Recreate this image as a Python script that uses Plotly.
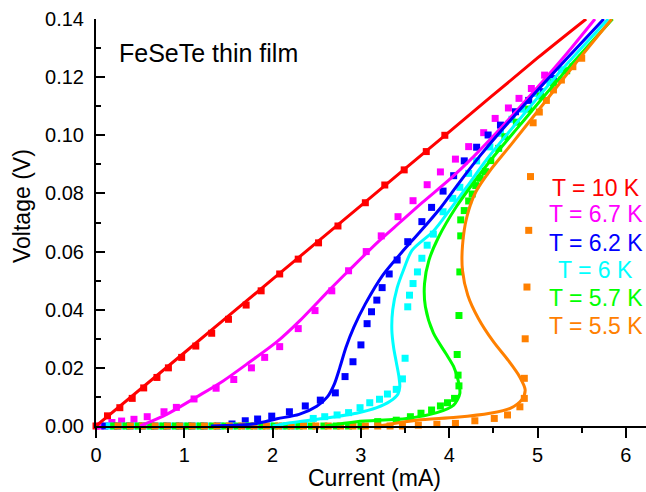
import plotly.graph_objects as go

# ---------------- data ----------------
temps = ["T = 10 K", "T = 6.7 K", "T = 6.2 K", "T = 6 K", "T = 5.7 K", "T = 5.5 K"]
colors = ["#FF0000", "#FF00FF", "#0000FF", "#00FFFF", "#00FF00", "#FF8000"]

# measured points (current mA, voltage V)
red_I = [0.0, 0.13, 0.27, 0.41, 0.54, 0.69, 0.82, 0.97, 1.13, 1.31, 1.50, 1.70, 1.87, 2.08, 2.29,
         2.52, 2.74, 3.05, 3.27, 3.49, 3.74, 3.95]
red_V = [0.0, 0.0035, 0.0063, 0.0095, 0.0131, 0.0167, 0.0200, 0.0236, 0.0275, 0.0319, 0.0367, 0.0416,
         0.0465, 0.0523, 0.0574, 0.0630, 0.0688, 0.0768, 0.0829, 0.0881, 0.0944, 0.1000]

mag_I = [0.05, 0.18, 0.29, 0.43, 0.58, 0.77, 0.91, 1.11, 1.36, 1.56, 1.76, 1.91, 2.08, 2.29, 2.48,
         2.67, 2.86, 3.06, 3.23, 3.42, 3.59, 3.75, 3.90, 4.07, 4.22, 4.39, 4.52, 4.67, 4.79, 4.93, 5.08]
mag_V = [0.0, 0.0012, 0.0017, 0.0023, 0.0032, 0.0049, 0.0064, 0.0093, 0.0130, 0.0160, 0.0200, 0.0236,
         0.0273, 0.0335, 0.0397, 0.0465, 0.0534, 0.0600, 0.0654, 0.0720, 0.0775, 0.0830, 0.0874,
         0.0918, 0.0961, 0.1009, 0.1058, 0.1094, 0.1127, 0.1161, 0.1207]

blue_I = [0.10, 0.24, 0.38, 0.52, 0.66, 0.80, 0.94, 1.08, 1.22, 1.38, 1.54, 1.69, 1.83, 1.99, 2.19,
          2.37, 2.54, 2.71, 2.82, 2.91, 3.00, 3.07, 3.12, 3.18, 3.24, 3.32, 3.41, 3.53, 3.69, 3.80,
          3.93, 4.05, 4.17, 4.31, 4.44, 4.58, 4.75, 4.90, 5.03, 5.18]
blue_V = [0.0, 0.0, 0.0, 0.0, 0.0, 0.0, 0.0, 0.0, 0.0, 0.0, 0.0007, 0.0018, 0.0024, 0.0034, 0.0049,
          0.0069, 0.0089, 0.0114, 0.0170, 0.0221, 0.0279, 0.0352, 0.0393, 0.0433, 0.0476, 0.0523,
          0.0571, 0.0634, 0.0703, 0.0752, 0.0808, 0.0861, 0.0912, 0.0959, 0.1001, 0.1035, 0.1081,
          0.1120, 0.1150, 0.1195]

cyan_I = [0.15, 0.29, 0.43, 0.57, 0.71, 0.85, 0.99, 1.13, 1.27, 1.41, 1.55, 1.69, 1.83, 1.97, 2.11,
          2.25, 2.36, 2.46, 2.59, 2.73, 2.86, 2.99, 3.10, 3.21, 3.30, 3.40, 3.47, 3.50, 3.53, 3.55,
          3.59, 3.64, 3.69, 3.75, 3.82, 3.93, 4.04, 4.12, 4.22, 4.31, 4.46, 4.58, 4.71, 4.84, 4.99,
          5.14, 5.27]
cyan_V = [0.0, 0.0, 0.0, 0.0, 0.0, 0.0, 0.0, 0.0, 0.0, 0.0, 0.0, 0.0, 0.0, 0.0, 0.0, 0.0, 0.0008,
          0.0026, 0.0032, 0.0038, 0.0046, 0.0063, 0.0080, 0.0092, 0.0110, 0.0126, 0.0162, 0.0233,
          0.0410, 0.0450, 0.0490, 0.0530, 0.0577, 0.0622, 0.0660, 0.0737, 0.0783, 0.0821, 0.0869,
          0.0912, 0.0960, 0.1007, 0.1055, 0.1090, 0.1144, 0.1185, 0.1225]

green_I = [0.20, 0.34, 0.48, 0.62, 0.76, 0.90, 1.04, 1.18, 1.32, 1.46, 1.60, 1.74, 1.88, 2.02, 2.16,
           2.30, 2.44, 2.58, 2.72, 2.86, 3.00, 3.19, 3.40, 3.56, 3.68, 3.80, 3.90, 3.98, 4.06, 4.11,
           4.10, 4.09, 4.11, 4.12, 4.13, 4.13, 4.17, 4.22, 4.26, 4.30, 4.35, 4.41, 4.47, 4.56, 4.63,
           4.76, 4.90, 5.03, 5.18, 5.33]
green_V = [0.0, 0.0, 0.0, 0.0, 0.0, 0.0, 0.0, 0.0, 0.0, 0.0, 0.0, 0.0, 0.0, 0.0, 0.0, 0.0, 0.0, 0.0,
           0.0, 0.0, 0.0, 0.0015, 0.0020, 0.0032, 0.0044, 0.0055, 0.0069, 0.0080, 0.0095, 0.0138,
           0.0175, 0.0246, 0.0380, 0.0530, 0.0654, 0.0709, 0.0741, 0.0774, 0.0798, 0.0827, 0.0852,
           0.0875, 0.0913, 0.0955, 0.0995, 0.1045, 0.1090, 0.1135, 0.1180, 0.1222]

orange_I = [0.25, 0.39, 0.53, 0.67, 0.81, 0.95, 1.09, 1.23, 1.37, 1.51, 1.65, 1.79, 1.93, 2.07, 2.21,
            2.35, 2.49, 2.63, 2.77, 2.91, 3.05, 3.19, 3.33, 3.47, 3.65, 3.86, 4.07, 4.29, 4.51, 4.66,
            4.80, 4.85, 4.85, 4.86, 4.88, 4.90, 4.92, 4.95, 5.02, 5.10, 5.18, 5.27, 5.40, 5.50]
orange_V = [0.0, 0.0, 0.0, 0.0, 0.0, 0.0, 0.0, 0.0, 0.0, 0.0, 0.0, 0.0, 0.0, 0.0, 0.0, 0.0, 0.0, 0.0,
            0.0, 0.0, 0.0, 0.0, 0.0, 0.0, 0.0003, 0.0006, 0.0009, 0.0018, 0.0026, 0.0038, 0.0066,
            0.0095, 0.0164, 0.0300, 0.0478, 0.0673, 0.0858, 0.1043, 0.1080, 0.1120, 0.1156, 0.1190,
            0.1236, 0.1265]

# fitted model curves (current mA, voltage V)
red_fit_I = [0.0, 1.0, 2.0, 3.0, 4.0, 5.0, 5.55]
red_fit_V = [0.0, 0.0252, 0.0505, 0.0758, 0.1012, 0.1266, 0.1400]

mag_fit_I = [0.50, 0.80, 1.14, 1.44, 1.74, 2.05, 2.30, 2.65, 2.88, 3.20, 3.44, 3.70, 4.01, 4.27,
             4.60, 5.00, 5.30, 5.65]
mag_fit_V = [0.0, 0.0040, 0.0100, 0.0155, 0.0220, 0.0290, 0.0360, 0.0470, 0.0540, 0.0635, 0.0700,
             0.0770, 0.0850, 0.0925, 0.1030, 0.1165, 0.1270, 0.1400]

blue_fit_I = [1.30, 1.80, 2.05, 2.30, 2.50, 2.62, 2.70, 2.76, 2.83, 2.92, 3.05, 3.25, 3.47, 3.67,
              3.90, 4.12, 4.35, 4.60, 5.00, 5.35, 5.75]
blue_fit_V = [0.0, 0.0008, 0.0025, 0.0040, 0.0068, 0.0100, 0.0145, 0.0200, 0.0270, 0.0340, 0.0420,
              0.0520, 0.0600, 0.0668, 0.0750, 0.0840, 0.0930, 0.1020, 0.1155, 0.1270, 0.1400]

cyan_fit_I = [2.00, 2.20, 2.57, 2.95, 3.18, 3.33, 3.42, 3.44, 3.43, 3.40, 3.37, 3.35, 3.36, 3.41,
              3.48, 3.58, 3.82, 4.01, 4.20, 4.42, 4.70, 5.20, 5.80]
cyan_fit_V = [0.0, 0.0011, 0.0026, 0.0044, 0.0063, 0.0085, 0.0110, 0.0135, 0.0170, 0.0220, 0.0270,
              0.0330, 0.0400, 0.0475, 0.0535, 0.0605, 0.0670, 0.0745, 0.0823, 0.0915, 0.1020, 0.1200,
              0.1400]

green_fit_I = [2.60, 2.95, 3.52, 3.86, 4.05, 4.12, 4.10, 4.05, 3.96, 3.82, 3.73, 3.72, 3.77, 3.88,
               4.08, 4.27, 4.50, 4.80, 5.30, 5.85]
green_fit_V = [0.0, 0.0015, 0.0026, 0.0046, 0.0072, 0.0112, 0.0158, 0.0204, 0.0250, 0.0320, 0.0410,
               0.0490, 0.0570, 0.0650, 0.0754, 0.0835, 0.0926, 0.1035, 0.1215, 0.1400]

orange_fit_I = [3.20, 3.63, 4.08, 4.46, 4.69, 4.82, 4.86, 4.80, 4.67, 4.50, 4.33, 4.21, 4.15, 4.15,
                4.20, 4.30, 4.46, 4.70, 5.03, 5.41, 5.84]
orange_fit_V = [0.0, 0.0020, 0.0030, 0.0044, 0.0061, 0.0090, 0.0124, 0.0168, 0.0225, 0.0290, 0.0370,
                0.0450, 0.0535, 0.0620, 0.0720, 0.0805, 0.0878, 0.0968, 0.1094, 0.1240, 0.1400]

x_ticks = [0, 1, 2, 3, 4, 5, 6]
y_ticks = [0.00, 0.02, 0.04, 0.06, 0.08, 0.10, 0.12, 0.14]

points = [(red_I, red_V), (mag_I, mag_V), (blue_I, blue_V), (cyan_I, cyan_V),
          (green_I, green_V), (orange_I, orange_V)]
fits = [(red_fit_I, red_fit_V), (mag_fit_I, mag_fit_V), (blue_fit_I, blue_fit_V),
        (cyan_fit_I, cyan_fit_V), (green_fit_I, green_fit_V), (orange_fit_I, orange_fit_V)]

FONT = "Arial, Liberation Sans, sans-serif"
XR = [0, 6.228]
YR = [0, 0.14]

fig = go.Figure()
for (xs, ys), c, name in zip(points, colors, temps):
    fig.add_trace(go.Scatter(x=xs, y=ys, mode="markers", name=name, cliponaxis=False,
                             marker=dict(symbol="square", size=7, color=c, line=dict(width=0)),
                             showlegend=False))
for (xs, ys), c, name in zip(fits, colors, temps):
    fig.add_trace(go.Scatter(x=xs, y=ys, mode="lines", name=name + " fit",
                             line=dict(color=c, width=3, shape="spline", smoothing=0.8),
                             showlegend=False))

# legend-like coloured labels
leg_y = [0.0820, 0.0730, 0.0630, 0.0535, 0.0440, 0.0345]
for t, c, yv in zip(temps, colors, leg_y):
    fig.add_annotation(x=5.66, y=yv, xref="x", yref="y", text=t, showarrow=False,
                       font=dict(family=FONT, size=23, color=c), xanchor="center", yanchor="middle")

fig.add_annotation(x=0.235, y=0.1283, xref="x", yref="y", text="FeSeTe thin film", showarrow=False,
                   font=dict(family=FONT, size=25, color="black"), xanchor="left", yanchor="middle")

fig.add_annotation(x=22, y=206, xref="paper", yref="paper", text="Voltage (V)", showarrow=False,
                   textangle=-90, font=dict(family=FONT, size=23, color="black"),
                   xanchor="center", yanchor="middle")
fig.add_annotation(x=374, y=478, xref="paper", yref="paper", text="Current (mA)", showarrow=False,
                   font=dict(family=FONT, size=23, color="black"), xanchor="center", yanchor="middle")

W, H = 646, 492
ML, MR, MT, MB = 96, 0, 19, 66
pw, ph = W - ML - MR, H - MT - MB
# convert pixel-placed annotations to paper coordinates
for a in fig.layout.annotations:
    if a.xref == "paper":
        a.x = (a.x - ML) / pw
        a.y = 1 - (a.y - MT) / ph

axis_common = dict(showgrid=False, zeroline=False, linecolor="black", linewidth=2,
                   tickcolor="black", tickwidth=2)

fig.update_layout(
    width=W, height=H, margin=dict(l=ML, r=MR, t=MT, b=MB, autoexpand=False),
    paper_bgcolor="white", plot_bgcolor="white",
    font=dict(family=FONT, color="black"),
    xaxis=dict(range=XR, tickvals=x_ticks, ticktext=[str(v) for v in x_ticks],
               ticks="outside", ticklen=10, showline=True, mirror=False,
               tickfont=dict(size=20), minor=dict(dtick=0.5, tick0=0, ticks="outside", ticklen=5,
                                                   tickwidth=2, tickcolor="black"),
               **axis_common),
    xaxis2=dict(range=XR, overlaying="x", anchor="y", side="top", tickvals=x_ticks,
                ticks="inside", ticklen=8, showline=True, showticklabels=False,
                minor=dict(dtick=0.5, tick0=0, ticks="inside", ticklen=5, tickwidth=2,
                           tickcolor="black"),
                **axis_common),
    xaxis3=dict(range=XR, overlaying="x", anchor="y", side="bottom", tickvals=x_ticks,
                ticks="inside", ticklen=7, showline=False, showticklabels=False, **axis_common),
    yaxis=dict(range=YR, tickvals=y_ticks, ticktext=["%.2f" % v for v in y_ticks],
               ticks="inside", ticklen=9, showline=True, mirror=False, ticklabelstandoff=6,
               tickfont=dict(size=20), minor=dict(dtick=0.01, tick0=0, ticks="inside", ticklen=5,
                                                   tickwidth=2, tickcolor="black"),
               **axis_common),
)

fig.write_html("out.html", config={"displayModeBar": False},
               post_script="document.body.style.margin='0';document.body.style.overflow='hidden';")
